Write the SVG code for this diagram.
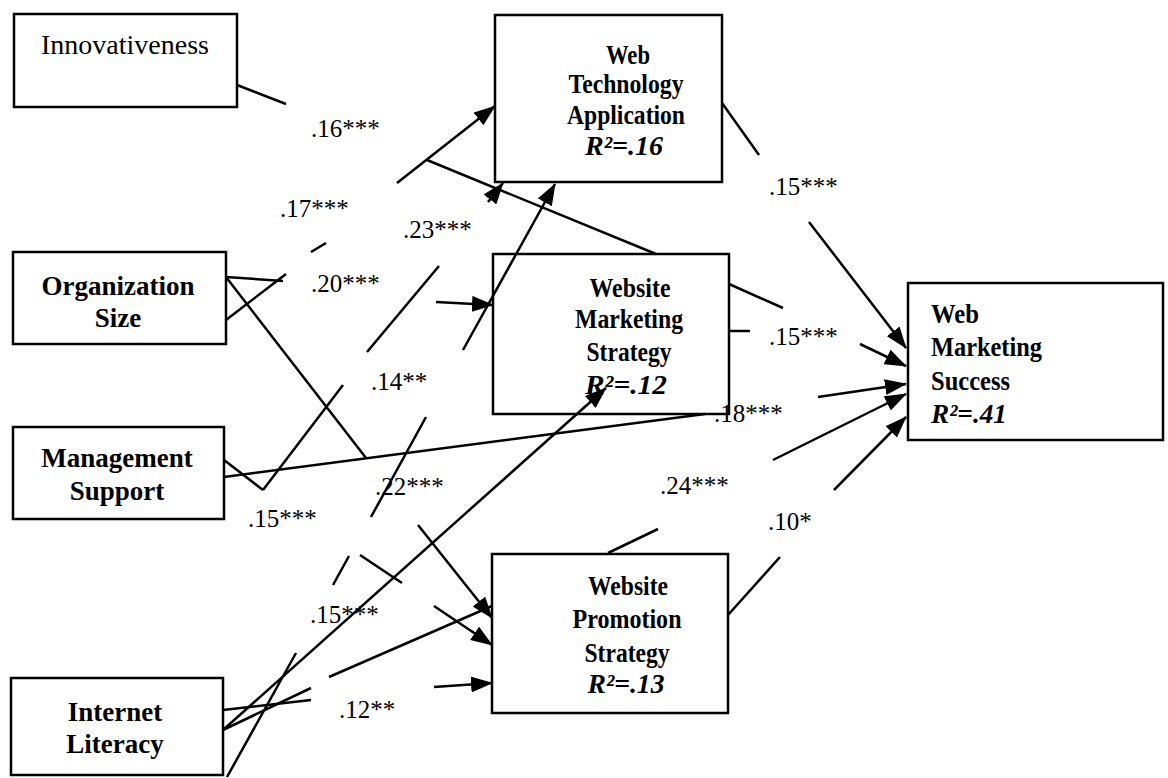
<svg xmlns="http://www.w3.org/2000/svg" width="1168" height="778" viewBox="0 0 1168 778">
<style>
.box{fill:#fff;stroke:#000;stroke-width:2.5}
.t{font-family:"Liberation Serif","Times New Roman",serif;font-size:27px;font-weight:bold;text-anchor:middle;fill:#000}
.tl{text-anchor:start}
.r2{font-style:italic}
.edge{fill:none;stroke:#000;stroke-width:2.5}
.c{font-family:"Liberation Serif","Times New Roman",serif;font-size:25px;fill:#000}
</style>
<defs>
<marker id="ah" viewBox="0 0 22 16" markerWidth="22" markerHeight="16" refX="21" refY="8" orient="auto" markerUnits="userSpaceOnUse">
<path d="M0,0 L22,8 L0,16 z" fill="#000"/>
</marker>
</defs>
<rect width="1168" height="778" fill="#fff"/>
<g id="innovativeness">
<rect class="box" x="14" y="14" width="223" height="93"/>
<text class="t" x="125" y="54" style="font-weight:normal;font-size:28px">Innovativeness</text>
</g>
<g id="organization-size">
<rect class="box" x="13" y="252" width="213" height="92"/>
<text class="t" x="118" y="295">Organization</text>
<text class="t" x="118" y="327">Size</text>
</g>
<g id="management-support">
<rect class="box" x="13" y="427" width="211" height="92"/>
<text class="t" x="117" y="467">Management</text>
<text class="t" x="117" y="500">Support</text>
</g>
<g id="internet-literacy">
<rect class="box" x="11" y="678" width="212" height="97"/>
<text class="t" x="115" y="721">Internet</text>
<text class="t" x="115" y="753">Literacy</text>
</g>
<g id="web-technology-application">
<rect class="box" x="495" y="15" width="227" height="167"/>
<text class="t" x="628" y="64" textLength="44" lengthAdjust="spacingAndGlyphs">Web</text>
<text class="t" x="626" y="93" textLength="115" lengthAdjust="spacingAndGlyphs">Technology</text>
<text class="t" x="626" y="124" textLength="118" lengthAdjust="spacingAndGlyphs">Application</text>
<text class="t r2" x="624" y="155" textLength="78" lengthAdjust="spacingAndGlyphs">R²=.16</text>
</g>
<g id="website-marketing-strategy">
<rect class="box" x="493" y="254" width="236" height="160"/>
<text class="t" x="630" y="297" textLength="81" lengthAdjust="spacingAndGlyphs">Website</text>
<text class="t" x="629" y="328" textLength="108" lengthAdjust="spacingAndGlyphs">Marketing</text>
<text class="t" x="629" y="361" textLength="85" lengthAdjust="spacingAndGlyphs">Strategy</text>
<text class="t r2" x="626" y="394" textLength="82" lengthAdjust="spacingAndGlyphs">R²=.12</text>
</g>
<g id="website-promotion-strategy">
<rect class="box" x="492" y="554" width="236" height="159"/>
<text class="t" x="628" y="595" textLength="80" lengthAdjust="spacingAndGlyphs">Website</text>
<text class="t" x="627" y="628" textLength="109" lengthAdjust="spacingAndGlyphs">Promotion</text>
<text class="t" x="627" y="662" textLength="85" lengthAdjust="spacingAndGlyphs">Strategy</text>
<text class="t r2" x="626" y="693" textLength="77" lengthAdjust="spacingAndGlyphs">R²=.13</text>
</g>
<g id="web-marketing-success">
<rect class="box" x="908" y="283" width="255" height="157"/>
<text class="t tl" x="931" y="323" textLength="48" lengthAdjust="spacingAndGlyphs">Web</text>
<text class="t tl" x="931" y="356" textLength="111" lengthAdjust="spacingAndGlyphs">Marketing</text>
<text class="t tl" x="931" y="390" textLength="79" lengthAdjust="spacingAndGlyphs">Success</text>
<text class="t tl r2" x="931" y="423" textLength="76" lengthAdjust="spacingAndGlyphs">R²=.41</text>
</g>
<g id="connectors">
<path class="edge" marker-end="url(#ah)" d="M237,85 L286,104 M427,160 L656,254 M729,284 L783,308 M860,344 L906,366"/>
<path class="edge" marker-end="url(#ah)" d="M226,320 L286,274 M311,252 L326,243 M397,183 L495,106"/>
<path class="edge" marker-end="url(#ah)" d="M226,277 L283,281 M436,302 L493,305"/>
<path class="edge" marker-end="url(#ah)" d="M226,277 L366,458 M418,525 L492,618"/>
<path class="edge" marker-end="url(#ah)" d="M263,490 L343,385 M367,352 L439,266 M488,202 L503,183"/>
<path class="edge" marker-end="url(#ah)" d="M224,460 L263,490 M360,555 L402,583 M434,606 L492,645"/>
<path class="edge" marker-end="url(#ah)" d="M224,477 L705,414 M818,397 L906,384"/>
<path class="edge" marker-end="url(#ah)" d="M227,777 L296,653 M333,585 L349,556 M371,517 L426,417 M463,350 L555,184"/>
<path class="edge" marker-end="url(#ah)" d="M223,730 L606,388"/>
<path class="edge" marker-end="url(#ah)" d="M223,710 L311,700 M434,687 L492,683"/>
<path class="edge" marker-end="url(#ah)" d="M223,730 L311,688 M329,677 L492,606 M608,553 L658,529 M773,460 L906,394"/>
<path class="edge" marker-end="url(#ah)" d="M722,103 L759,155 M809,222 L906,348"/>
<path class="edge" marker-end="url(#ah)" d="M728,615 L780,557 M834,490 L906,417"/>
<path class="edge" d="M729,331 L750,331"/>
<text class="c" x="311" y="137">.16***</text>
<text class="c" x="280" y="217">.17***</text>
<text class="c" x="403" y="238">.23***</text>
<text class="c" x="311" y="292">.20***</text>
<text class="c" x="371" y="390">.14**</text>
<text class="c" x="375" y="495">.22***</text>
<text class="c" x="248" y="527">.15***</text>
<text class="c" x="310" y="623">.15***</text>
<text class="c" x="339" y="718">.12**</text>
<text class="c" x="769" y="195">.15***</text>
<text class="c" x="769" y="345">.15***</text>
<text class="c" x="714" y="422">.18***</text>
<text class="c" x="660" y="494">.24***</text>
<text class="c" x="768" y="530">.10*</text>
</g>
</svg>
